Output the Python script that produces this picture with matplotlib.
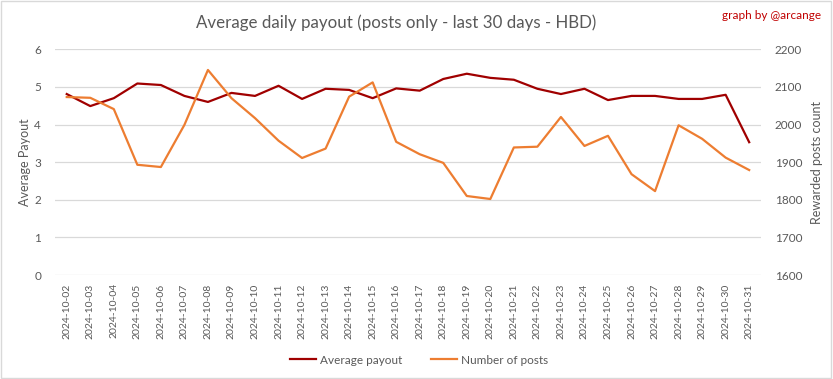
import matplotlib.pyplot as plt
from matplotlib.patches import Rectangle

plt.rcParams['font.family'] = ['Lato', 'DejaVu Sans']

days = ["2024-10-%02d" % d for d in range(2, 32)]
avg_payout = [4.81, 4.49, 4.70, 5.09, 5.05, 4.76, 4.60, 4.84, 4.76, 5.03,
              4.68, 4.95, 4.92, 4.70, 4.96, 4.90, 5.21, 5.35, 5.24, 5.19,
              4.95, 4.81, 4.95, 4.65, 4.76, 4.76, 4.68, 4.68, 4.79, 3.53]
num_posts = [2073, 2071, 2041, 1893, 1887, 1999, 2145, 2070, 2017, 1957,
             1911, 1936, 2074, 2112, 1954, 1921, 1898, 1810, 1802, 1939,
             1941, 2020, 1943, 1970, 1868, 1823, 1998, 1962, 1912, 1879]

grey = "#595959"
red = "#A00000"
orange = "#ED7D31"

fig = plt.figure(figsize=(8.33, 3.79), dpi=100)
ax = fig.add_axes([0.066, 0.2744, 0.8475, 0.5956])
ax2 = ax.twinx()

x = list(range(len(days)))
l1, = ax.plot(x, avg_payout, color=red, lw=1.6, label="Average payout")
l2, = ax2.plot(x, num_posts, color=orange, lw=1.6, label="Number of posts")

ax.set_xlim(-0.5, len(days) - 0.5)
ax.set_ylim(0, 6)
ax2.set_ylim(1600, 2200)
ax.set_yticks(range(0, 7))
ax2.set_yticks(range(1600, 2201, 100))
ax.set_xticks(x)
ax.set_xticklabels(days, rotation=90, fontsize=7.5, color=grey)
ax.grid(axis='y', color="#D9D9D9", lw=0.9)
ax.set_axisbelow(True)

for a in (ax, ax2):
    for s in a.spines.values():
        s.set_visible(False)
    a.tick_params(axis='y', length=0, labelsize=8.5, labelcolor=grey, pad=10)
ax.tick_params(axis='x', length=0, pad=6)

ax.set_ylabel("Average Payout", color=grey, fontsize=9, labelpad=2)
ax2.set_ylabel("Rewarded posts count", color=grey, fontsize=9, labelpad=6)

fig.text(0.475, 0.94, "Average daily payout (posts only - last 30 days - HBD)",
         ha='center', va='center', fontsize=12.2, color=grey)
fig.text(0.986, 0.96, "graph by @arcange", ha='right', va='center',
         fontsize=8.5, color="#C00000")

fig.legend([l1, l2], ["Average payout", "Number of posts"], loc='center',
           bbox_to_anchor=(0.503, 0.05), ncol=2, frameon=False, fontsize=8.5,
           labelcolor=grey, handlelength=2.2, handletextpad=0.3, columnspacing=2.5)

fig.patches.append(Rectangle((0.001, 0.002), 0.997, 0.995, transform=fig.transFigure,
                             fill=False, edgecolor="#D9D9D9", lw=1))

fig.savefig("out.png", dpi=100)
